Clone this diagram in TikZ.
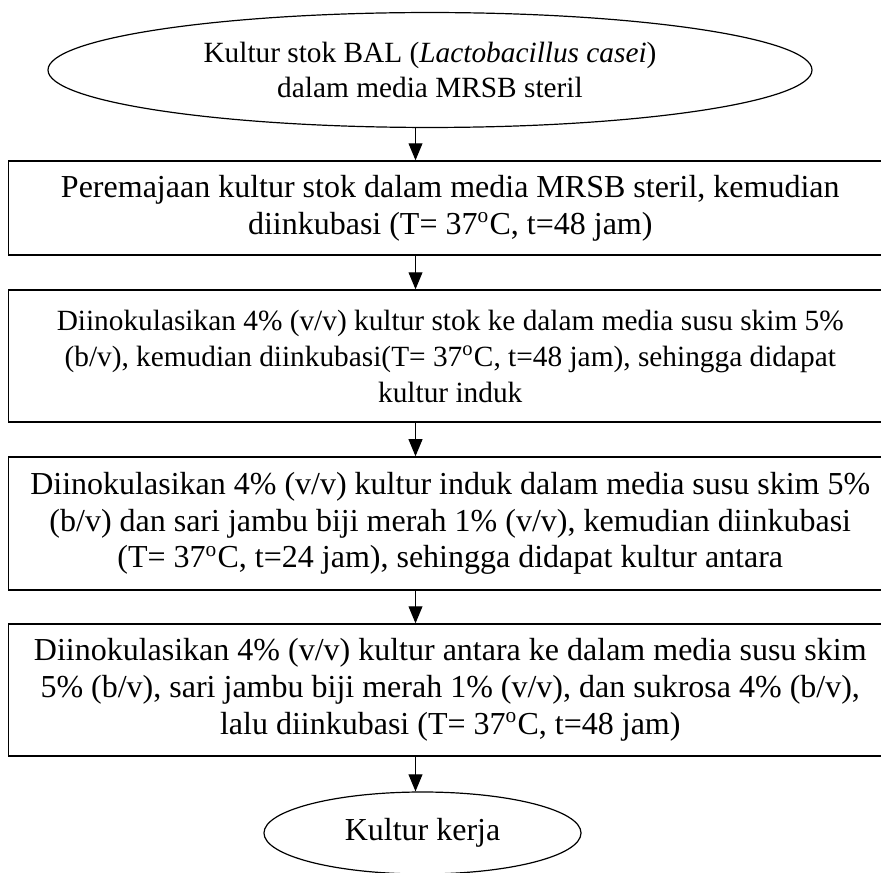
\documentclass[tikz,border=0pt]{standalone}
\usepackage{fontspec}
\setmainfont{Liberation Serif}
\usetikzlibrary{shapes.geometric,arrows.meta}
\begin{document}
\begin{tikzpicture}[x=0.375pt,y=-0.375pt,
  stepbox/.style={draw,line width=0.5pt,rectangle,minimum width=331.3pt,inner sep=0pt,align=center},
  oval/.style={draw,ellipse,line width=0.45pt,inner sep=0pt,align=center},
  arr/.style={-{Triangle[length=6.4pt,width=5.2pt]},line width=0.45pt},
  twelve/.style={font=\fontsize{12}{13.8}\selectfont},
  eleven/.style={font=\fontsize{11}{13.3}\selectfont}]
\useasboundingbox (0,0) rectangle (881,873);
\clip (0,0) rectangle (881,873);
\node[oval,eleven,minimum width=286.5pt,minimum height=43.1pt] (e1) at (430,70)
  {Kultur stok BAL (\textit{Lactobacillus casei})\\dalam media MRSB steril};
\node[stepbox,twelve,minimum height=35.25pt] (b1) at (450.25,208)
  {Peremajaan kultur stok dalam media MRSB steril, kemudian\\diinkubasi (T= 37\textsuperscript{o}C, t=48 jam)};
\node[stepbox,font=\fontsize{11}{13.5}\selectfont,minimum height=49.5pt] (b2) at (450.25,356)
  {Diinokulasikan 4\% (v/v) kultur stok ke dalam media susu skim 5\%\\(b/v), kemudian diinkubasi(T= 37\textsuperscript{o}C, t=48 jam), sehingga didapat\\kultur induk};
\node[stepbox,twelve,minimum height=49.9pt] (b3) at (450.25,523.5)
  {Diinokulasikan 4\% (v/v) kultur induk dalam media susu skim 5\%\\(b/v) dan sari jambu biji merah 1\% (v/v), kemudian diinkubasi\\(T= 37\textsuperscript{o}C, t=24 jam), sehingga didapat kultur antara};
\node[stepbox,twelve,minimum height=49.5pt] (b4) at (450.25,690)
  {Diinokulasikan 4\% (v/v) kultur antara ke dalam media susu skim\\5\% (b/v), sari jambu biji merah 1\% (v/v), dan sukrosa 4\% (b/v),\\lalu diinkubasi (T= 37\textsuperscript{o}C, t=48 jam)};
\node[oval,twelve,minimum width=118.9pt,minimum height=30.75pt] (e2) at (422.5,833) {Kultur kerja};
\coordinate (ax) at (415.5,0);
\draw[arr] (e1.south -| ax) -- (b1.north -| ax);
\draw[arr] (b1.south -| ax) -- (b2.north -| ax);
\draw[arr] (b2.south -| ax) -- (b3.north -| ax);
\draw[arr] (b3.south -| ax) -- (b4.north -| ax);
\draw[arr] (b4.south -| ax) -- (e2.north -| ax);
\end{tikzpicture}
\end{document}
